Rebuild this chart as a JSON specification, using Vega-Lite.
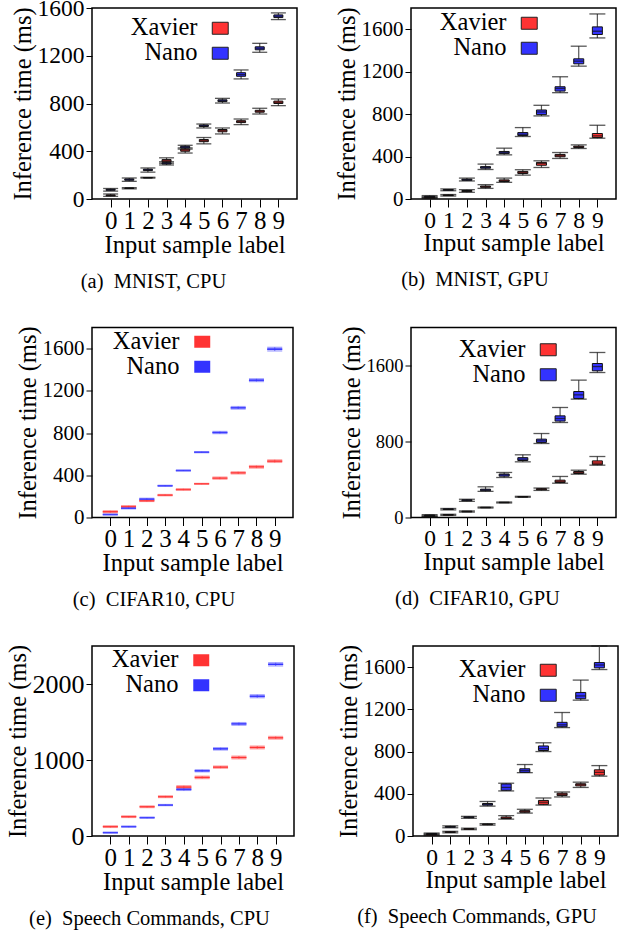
{
"$schema": "https://vega.github.io/schema/vega-lite/v6.json",
"padding": {"left": 4, "top": -5, "right": 0, "bottom": 0},
"spacing": 31.5,
"datasets": {
"a": [
{"label":"0","device":"Nano","min":66,"q1":73,"med":78,"q3":82,"max":88},
{"label":"1","device":"Nano","min":148,"q1":157,"med":163,"q3":168,"max":176},
{"label":"2","device":"Nano","min":225,"q1":238,"med":245,"q3":250,"max":260},
{"label":"3","device":"Nano","min":285,"q1":293,"med":298,"q3":304,"max":312},
{"label":"4","device":"Nano","min":418,"q1":428,"med":435,"q3":442,"max":450},
{"label":"5","device":"Nano","min":595,"q1":607,"med":614,"q3":620,"max":628},
{"label":"6","device":"Nano","min":804,"q1":816,"med":824,"q3":831,"max":843},
{"label":"7","device":"Nano","min":1006,"q1":1028,"med":1042,"q3":1058,"max":1081},
{"label":"8","device":"Nano","min":1229,"q1":1250,"med":1263,"q3":1275,"max":1304},
{"label":"9","device":"Nano","min":1503,"q1":1520,"med":1531,"q3":1542,"max":1559},
{"label":"0","device":"Xavier","min":22,"q1":27,"med":30,"q3":34,"max":42},
{"label":"1","device":"Xavier","min":85,"q1":88,"med":90,"q3":92,"max":95},
{"label":"2","device":"Xavier","min":175,"q1":177,"med":178,"q3":180,"max":182},
{"label":"3","device":"Xavier","min":300,"q1":312,"med":320,"q3":330,"max":345},
{"label":"4","device":"Xavier","min":385,"q1":400,"med":410,"q3":418,"max":428},
{"label":"5","device":"Xavier","min":462,"q1":480,"med":488,"q3":498,"max":515},
{"label":"6","device":"Xavier","min":545,"q1":563,"med":573,"q3":582,"max":595},
{"label":"7","device":"Xavier","min":623,"q1":640,"med":648,"q3":656,"max":670},
{"label":"8","device":"Xavier","min":712,"q1":727,"med":735,"q3":743,"max":760},
{"label":"9","device":"Xavier","min":782,"q1":800,"med":810,"q3":820,"max":838}
],
"b": [
{"label":"0","device":"Nano","min":15,"q1":19,"med":22,"q3":26,"max":32},
{"label":"1","device":"Nano","min":78,"q1":82,"med":85,"q3":89,"max":95},
{"label":"2","device":"Nano","min":170,"q1":176,"med":182,"q3":187,"max":197},
{"label":"3","device":"Nano","min":278,"q1":290,"med":298,"q3":305,"max":329},
{"label":"4","device":"Nano","min":416,"q1":428,"med":438,"q3":448,"max":479},
{"label":"5","device":"Nano","min":589,"q1":598,"med":610,"q3":626,"max":673},
{"label":"6","device":"Nano","min":783,"q1":795,"med":820,"q3":839,"max":883},
{"label":"7","device":"Nano","min":1002,"q1":1017,"med":1042,"q3":1058,"max":1152},
{"label":"8","device":"Nano","min":1252,"q1":1274,"med":1299,"q3":1321,"max":1440},
{"label":"9","device":"Nano","min":1518,"q1":1550,"med":1581,"q3":1622,"max":1744},
{"label":"0","device":"Xavier","min":5,"q1":9,"med":12,"q3":15,"max":20},
{"label":"1","device":"Xavier","min":28,"q1":32,"med":35,"q3":38,"max":42},
{"label":"2","device":"Xavier","min":63,"q1":70,"med":75,"q3":80,"max":88},
{"label":"3","device":"Xavier","min":100,"q1":110,"med":116,"q3":122,"max":135},
{"label":"4","device":"Xavier","min":157,"q1":165,"med":172,"q3":180,"max":197},
{"label":"5","device":"Xavier","min":225,"q1":240,"med":250,"q3":260,"max":276},
{"label":"6","device":"Xavier","min":297,"q1":318,"med":335,"q3":345,"max":360},
{"label":"7","device":"Xavier","min":382,"q1":398,"med":408,"q3":420,"max":438},
{"label":"8","device":"Xavier","min":476,"q1":485,"med":492,"q3":498,"max":510},
{"label":"9","device":"Xavier","min":573,"q1":579,"med":595,"q3":617,"max":695}
],
"c": [
{"label":"0","device":"Nano","min":24,"q1":26,"med":28,"q3":30,"max":32},
{"label":"1","device":"Nano","min":82,"q1":85,"med":88,"q3":91,"max":94},
{"label":"2","device":"Nano","min":166,"q1":170,"med":174,"q3":178,"max":182},
{"label":"3","device":"Nano","min":295,"q1":298,"med":300,"q3":302,"max":305},
{"label":"4","device":"Nano","min":440,"q1":443,"med":445,"q3":447,"max":450},
{"label":"5","device":"Nano","min":614,"q1":617,"med":619,"q3":621,"max":624},
{"label":"6","device":"Nano","min":795,"q1":801,"med":805,"q3":809,"max":815},
{"label":"7","device":"Nano","min":1027,"q1":1034,"med":1039,"q3":1044,"max":1051},
{"label":"8","device":"Nano","min":1288,"q1":1295,"med":1301,"q3":1307,"max":1314},
{"label":"9","device":"Nano","min":1578,"q1":1588,"med":1595,"q3":1602,"max":1612},
{"label":"0","device":"Xavier","min":45,"q1":50,"med":55,"q3":60,"max":64},
{"label":"1","device":"Xavier","min":97,"q1":101,"med":104,"q3":107,"max":111},
{"label":"2","device":"Xavier","min":152,"q1":155,"med":158,"q3":161,"max":164},
{"label":"3","device":"Xavier","min":206,"q1":209,"med":212,"q3":215,"max":218},
{"label":"4","device":"Xavier","min":258,"q1":262,"med":265,"q3":268,"max":272},
{"label":"5","device":"Xavier","min":315,"q1":317,"med":319,"q3":321,"max":323},
{"label":"6","device":"Xavier","min":363,"q1":369,"med":373,"q3":377,"max":383},
{"label":"7","device":"Xavier","min":413,"q1":419,"med":423,"q3":427,"max":433},
{"label":"8","device":"Xavier","min":468,"q1":475,"med":480,"q3":485,"max":492},
{"label":"9","device":"Xavier","min":522,"q1":529,"med":534,"q3":539,"max":546}
],
"d": [
{"label":"0","device":"Nano","min":15,"q1":18,"med":22,"q3":25,"max":30},
{"label":"1","device":"Nano","min":80,"q1":84,"med":88,"q3":91,"max":95},
{"label":"2","device":"Nano","min":170,"q1":176,"med":182,"q3":186,"max":192},
{"label":"3","device":"Nano","min":275,"q1":282,"med":290,"q3":298,"max":323},
{"label":"4","device":"Nano","min":421,"q1":435,"med":449,"q3":458,"max":474},
{"label":"5","device":"Nano","min":586,"q1":600,"med":614,"q3":630,"max":660},
{"label":"6","device":"Nano","min":779,"q1":790,"med":807,"q3":825,"max":884},
{"label":"7","device":"Nano","min":1000,"q1":1015,"med":1042,"q3":1070,"max":1158},
{"label":"8","device":"Nano","min":1246,"q1":1253,"med":1291,"q3":1326,"max":1446},
{"label":"9","device":"Nano","min":1526,"q1":1544,"med":1589,"q3":1621,"max":1737},
{"label":"0","device":"Xavier","min":5,"q1":8,"med":10,"q3":12,"max":15},
{"label":"1","device":"Xavier","min":22,"q1":25,"med":28,"q3":31,"max":34},
{"label":"2","device":"Xavier","min":57,"q1":60,"med":63,"q3":66,"max":69},
{"label":"3","device":"Xavier","min":100,"q1":103,"med":105,"q3":107,"max":110},
{"label":"4","device":"Xavier","min":153,"q1":156,"med":158,"q3":160,"max":163},
{"label":"5","device":"Xavier","min":213,"q1":216,"med":218,"q3":220,"max":223},
{"label":"6","device":"Xavier","min":285,"q1":292,"med":298,"q3":303,"max":310},
{"label":"7","device":"Xavier","min":361,"q1":368,"med":379,"q3":393,"max":432},
{"label":"8","device":"Xavier","min":456,"q1":463,"med":474,"q3":484,"max":498},
{"label":"9","device":"Xavier","min":551,"q1":556,"med":572,"q3":596,"max":642}
],
"e": [
{"label":"0","device":"Nano","min":38,"q1":41,"med":44,"q3":47,"max":50},
{"label":"1","device":"Nano","min":116,"q1":120,"med":123,"q3":126,"max":130},
{"label":"2","device":"Nano","min":234,"q1":238,"med":241,"q3":244,"max":248},
{"label":"3","device":"Nano","min":400,"q1":404,"med":407,"q3":410,"max":414},
{"label":"4","device":"Nano","min":600,"q1":607,"med":613,"q3":619,"max":626},
{"label":"5","device":"Nano","min":845,"q1":852,"med":858,"q3":864,"max":871},
{"label":"6","device":"Nano","min":1132,"q1":1140,"med":1147,"q3":1154,"max":1162},
{"label":"7","device":"Nano","min":1458,"q1":1468,"med":1475,"q3":1482,"max":1492},
{"label":"8","device":"Nano","min":1820,"q1":1831,"med":1839,"q3":1847,"max":1858},
{"label":"9","device":"Nano","min":2238,"q1":2250,"med":2259,"q3":2268,"max":2280},
{"label":"0","device":"Xavier","min":113,"q1":118,"med":123,"q3":128,"max":133},
{"label":"1","device":"Xavier","min":244,"q1":249,"med":254,"q3":259,"max":264},
{"label":"2","device":"Xavier","min":374,"q1":380,"med":385,"q3":390,"max":396},
{"label":"3","device":"Xavier","min":506,"q1":512,"med":517,"q3":522,"max":528},
{"label":"4","device":"Xavier","min":626,"q1":636,"med":644,"q3":652,"max":662},
{"label":"5","device":"Xavier","min":755,"q1":764,"med":771,"q3":778,"max":787},
{"label":"6","device":"Xavier","min":892,"q1":900,"med":906,"q3":912,"max":920},
{"label":"7","device":"Xavier","min":1015,"q1":1025,"med":1033,"q3":1041,"max":1051},
{"label":"8","device":"Xavier","min":1147,"q1":1157,"med":1165,"q3":1173,"max":1183},
{"label":"9","device":"Xavier","min":1275,"q1":1285,"med":1292,"q3":1299,"max":1310}
],
"f": [
{"label":"0","device":"Nano","min":12,"q1":16,"med":20,"q3":24,"max":28},
{"label":"1","device":"Nano","min":78,"q1":83,"med":87,"q3":91,"max":96},
{"label":"2","device":"Nano","min":168,"q1":173,"med":177,"q3":181,"max":186},
{"label":"3","device":"Nano","min":283,"q1":292,"med":300,"q3":308,"max":327},
{"label":"4","device":"Nano","min":427,"q1":433,"med":460,"q3":493,"max":500},
{"label":"5","device":"Nano","min":600,"q1":603,"med":620,"q3":637,"max":677},
{"label":"6","device":"Nano","min":800,"q1":810,"med":827,"q3":853,"max":883},
{"label":"7","device":"Nano","min":1027,"q1":1035,"med":1053,"q3":1077,"max":1170},
{"label":"8","device":"Nano","min":1287,"q1":1300,"med":1327,"q3":1360,"max":1477},
{"label":"9","device":"Nano","min":1577,"q1":1593,"med":1620,"q3":1643,"max":1800},
{"label":"0","device":"Xavier","min":5,"q1":8,"med":12,"q3":15,"max":20},
{"label":"1","device":"Xavier","min":30,"q1":34,"med":37,"q3":40,"max":44},
{"label":"2","device":"Xavier","min":60,"q1":64,"med":67,"q3":70,"max":74},
{"label":"3","device":"Xavier","min":103,"q1":107,"med":110,"q3":113,"max":117},
{"label":"4","device":"Xavier","min":160,"q1":165,"med":170,"q3":180,"max":193},
{"label":"5","device":"Xavier","min":217,"q1":225,"med":233,"q3":240,"max":253},
{"label":"6","device":"Xavier","min":293,"q1":300,"med":320,"q3":337,"max":360},
{"label":"7","device":"Xavier","min":370,"q1":383,"med":393,"q3":405,"max":417},
{"label":"8","device":"Xavier","min":460,"q1":475,"med":487,"q3":495,"max":510},
{"label":"9","device":"Xavier","min":567,"q1":577,"med":603,"q3":627,"max":667}
]
},
"resolve": {"scale": {"x": "independent", "y": "independent", "color": "independent"}, "legend": {"color": "independent"}},
"vconcat": [
{
"spacing": 35,
"resolve": {"scale": {"x": "independent", "y": "independent", "color": "independent"}, "legend": {"color": "independent"}},
"hconcat": [
{
"width": 205, "height": 191,
"data": {"name": "a"},
"title": {"text": "(a)\u2002MNIST, CPU"},
"encoding": {"x": {"field": "label", "type": "ordinal", "scale": {"type": "point", "padding": 1.1}, "axis": {"title": "Input sample label", "labelFontSize": 25}}},
"layer": [
{"mark": {"type": "rule", "color": "#555", "strokeWidth": 1.2}, "encoding": {"y": {"field": "min", "type": "quantitative", "scale": {"domain": [0, 1600], "nice": false}, "axis": {"title": "Inference time (ms)", "values": [0,200,400,600,800,1000,1200,1400,1600], "labelFontSize": 23.5}}, "y2": {"field": "max"}}},
{"mark": {"type": "tick", "color": "#111", "size": 15, "thickness": 1.3}, "encoding": {"y": {"field": "min", "type": "quantitative"}}},
{"mark": {"type": "tick", "color": "#111", "size": 15, "thickness": 1.3}, "encoding": {"y": {"field": "max", "type": "quantitative"}}},
{"mark": {"type": "bar", "size": 9, "stroke": "#111", "strokeWidth": 1}, "encoding": {"y": {"field": "q1", "type": "quantitative"}, "y2": {"field": "q3"}, "color": {"field": "device", "type": "nominal", "scale": {"domain": ["Xavier", "Nano"], "range": ["#ff3333", "#3333ff"]}, "legend": {"legendX": 116, "legendY": 8}}}},
{"mark": {"type": "tick", "color": "#111", "size": 9, "thickness": 1.3}, "encoding": {"y": {"field": "med", "type": "quantitative"}}}
]
},
{
"width": 205, "height": 191,
"data": {"name": "b"},
"title": {"text": "(b)\u2002MNIST, GPU"},
"encoding": {"x": {"field": "label", "type": "ordinal", "scale": {"type": "point", "padding": 1.1}, "axis": {"title": "Input sample label", "labelFontSize": 23.5}}},
"layer": [
{"mark": {"type": "rule", "color": "#555", "strokeWidth": 1.2}, "encoding": {"y": {"field": "min", "type": "quantitative", "scale": {"domain": [0, 1800], "nice": false}, "axis": {"title": "Inference time (ms)", "values": [0,200,400,600,800,1000,1200,1400,1600,1800], "labelFontSize": 21}}, "y2": {"field": "max"}}},
{"mark": {"type": "tick", "color": "#111", "size": 16, "thickness": 1.3}, "encoding": {"y": {"field": "min", "type": "quantitative"}}},
{"mark": {"type": "tick", "color": "#111", "size": 16, "thickness": 1.3}, "encoding": {"y": {"field": "max", "type": "quantitative"}}},
{"mark": {"type": "bar", "size": 10, "stroke": "#111", "strokeWidth": 1}, "encoding": {"y": {"field": "q1", "type": "quantitative"}, "y2": {"field": "q3"}, "color": {"field": "device", "type": "nominal", "scale": {"domain": ["Xavier", "Nano"], "range": ["#ff3333", "#3333ff"]}, "legend": {"legendX": 106, "legendY": 3}}}},
{"mark": {"type": "tick", "color": "#111", "size": 10, "thickness": 1.3}, "encoding": {"y": {"field": "med", "type": "quantitative"}}}
]
}
]
},
{
"spacing": 44,
"resolve": {"scale": {"x": "independent", "y": "independent", "color": "independent"}, "legend": {"color": "independent"}},
"hconcat": [
{
"width": 201, "height": 190,
"data": {"name": "c"},
"title": {"text": "(c)\u2002CIFAR10, CPU"},
"encoding": {"x": {"field": "label", "type": "ordinal", "scale": {"type": "point", "padding": 1.1}, "axis": {"title": "Input sample label", "labelFontSize": 25}}},
"layer": [
{"mark": {"type": "rule", "strokeWidth": 1.2, "opacity": 0.5}, "encoding": {"y": {"field": "min", "type": "quantitative", "scale": {"domain": [0, 1800], "nice": false}, "axis": {"title": "Inference time (ms)", "values": [0,200,400,600,800,1000,1200,1400,1600,1800], "labelFontSize": 21}}, "y2": {"field": "max"}, "color": {"field": "device", "type": "nominal", "scale": {"domain": ["Xavier", "Nano"], "range": ["#ff3333", "#3333ff"]}, "legend": {"legendX": 98, "legendY": 2, "symbolStrokeWidth": 0}}}},
{"mark": {"type": "tick", "size": 15, "thickness": 1.3, "opacity": 0.45}, "encoding": {"y": {"field": "min", "type": "quantitative"}, "color": {"field": "device", "type": "nominal"}}},
{"mark": {"type": "tick", "size": 15, "thickness": 1.3, "opacity": 0.45}, "encoding": {"y": {"field": "max", "type": "quantitative"}, "color": {"field": "device", "type": "nominal"}}},
{"mark": {"type": "bar", "size": 15}, "encoding": {"y": {"field": "q1", "type": "quantitative"}, "y2": {"field": "q3"}, "color": {"field": "device", "type": "nominal"}}},
{"mark": {"type": "tick", "size": 15, "thickness": 1.5}, "encoding": {"y": {"field": "med", "type": "quantitative"}, "color": {"field": "device", "type": "nominal"}}}
]
},
{
"width": 205, "height": 190,
"data": {"name": "d"},
"title": {"text": "(d)\u2002CIFAR10, GPU"},
"encoding": {"x": {"field": "label", "type": "ordinal", "scale": {"type": "point", "padding": 1.1}, "axis": {"title": "Input sample label", "labelFontSize": 23.5}}},
"layer": [
{"mark": {"type": "rule", "color": "#555", "strokeWidth": 1.2}, "encoding": {"y": {"field": "min", "type": "quantitative", "scale": {"domain": [0, 2000], "nice": false}, "axis": {"title": "Inference time (ms)", "values": [0,200,400,600,800,1000,1200,1400,1600,1800,2000], "labelFontSize": 18.5}}, "y2": {"field": "max"}}},
{"mark": {"type": "tick", "color": "#111", "size": 16, "thickness": 1.3}, "encoding": {"y": {"field": "min", "type": "quantitative"}}},
{"mark": {"type": "tick", "color": "#111", "size": 16, "thickness": 1.3}, "encoding": {"y": {"field": "max", "type": "quantitative"}}},
{"mark": {"type": "bar", "size": 10, "stroke": "#111", "strokeWidth": 1}, "encoding": {"y": {"field": "q1", "type": "quantitative"}, "y2": {"field": "q3"}, "color": {"field": "device", "type": "nominal", "scale": {"domain": ["Xavier", "Nano"], "range": ["#ff3333", "#3333ff"]}, "legend": {"legendX": 125, "legendY": 10}}}},
{"mark": {"type": "tick", "color": "#111", "size": 10, "thickness": 1.3}, "encoding": {"y": {"field": "med", "type": "quantitative"}}}
]
}
]
},
{
"spacing": 40,
"resolve": {"scale": {"x": "independent", "y": "independent", "color": "independent"}, "legend": {"color": "independent"}},
"hconcat": [
{
"width": 202, "height": 190,
"data": {"name": "e"},
"title": {"text": "(e)\u2002Speech Commands, CPU"},
"encoding": {"x": {"field": "label", "type": "ordinal", "scale": {"type": "point", "padding": 1.1}, "axis": {"title": "Input sample label", "labelFontSize": 25}}},
"layer": [
{"mark": {"type": "rule", "strokeWidth": 1.2, "opacity": 0.5}, "encoding": {"y": {"field": "min", "type": "quantitative", "scale": {"domain": [0, 2500], "nice": false}, "axis": {"title": "Inference time (ms)", "values": [0,500,1000,1500,2000,2500], "labelFontSize": 26}}, "y2": {"field": "max"}, "color": {"field": "device", "type": "nominal", "scale": {"domain": ["Xavier", "Nano"], "range": ["#ff3333", "#3333ff"]}, "legend": {"legendX": 97, "legendY": 2, "symbolStrokeWidth": 0}}}},
{"mark": {"type": "tick", "size": 15, "thickness": 1.3, "opacity": 0.45}, "encoding": {"y": {"field": "min", "type": "quantitative"}, "color": {"field": "device", "type": "nominal"}}},
{"mark": {"type": "tick", "size": 15, "thickness": 1.3, "opacity": 0.45}, "encoding": {"y": {"field": "max", "type": "quantitative"}, "color": {"field": "device", "type": "nominal"}}},
{"mark": {"type": "bar", "size": 15}, "encoding": {"y": {"field": "q1", "type": "quantitative"}, "y2": {"field": "q3"}, "color": {"field": "device", "type": "nominal"}}},
{"mark": {"type": "tick", "size": 15, "thickness": 1.5}, "encoding": {"y": {"field": "med", "type": "quantitative"}, "color": {"field": "device", "type": "nominal"}}}
]
},
{
"width": 205, "height": 190,
"data": {"name": "f"},
"title": {"text": "(f)\u2002Speech Commands, GPU"},
"encoding": {"x": {"field": "label", "type": "ordinal", "scale": {"type": "point", "padding": 1.1}, "axis": {"title": "Input sample label", "labelFontSize": 23.5}}},
"layer": [
{"mark": {"type": "rule", "color": "#555", "strokeWidth": 1.2}, "encoding": {"y": {"field": "min", "type": "quantitative", "scale": {"domain": [0, 1800], "nice": false}, "axis": {"title": "Inference time (ms)", "values": [0,200,400,600,800,1000,1200,1400,1600,1800], "labelFontSize": 21}}, "y2": {"field": "max"}}},
{"mark": {"type": "tick", "color": "#111", "size": 16, "thickness": 1.3}, "encoding": {"y": {"field": "min", "type": "quantitative"}}},
{"mark": {"type": "tick", "color": "#111", "size": 16, "thickness": 1.3}, "encoding": {"y": {"field": "max", "type": "quantitative"}}},
{"mark": {"type": "bar", "size": 10, "stroke": "#111", "strokeWidth": 1}, "encoding": {"y": {"field": "q1", "type": "quantitative"}, "y2": {"field": "q3"}, "color": {"field": "device", "type": "nominal", "scale": {"domain": ["Xavier", "Nano"], "range": ["#ff3333", "#3333ff"]}, "legend": {"legendX": 123, "legendY": 12}}}},
{"mark": {"type": "tick", "color": "#111", "size": 10, "thickness": 1.3}, "encoding": {"y": {"field": "med", "type": "quantitative"}}}
]
}
]
}
],
"config": {
"font": "Liberation Serif",
"view": {"stroke": "#000", "strokeWidth": 1.5},
"axis": {"labelFont": "Liberation Serif, serif", "titleFont": "Liberation Serif, serif", "labelColor": "#000", "titleColor": "#000", "tickColor": "#000", "tickWidth": 1, "domain": false, "grid": false, "titleFontWeight": "normal", "titleFontSize": 24.5, "format": "d", "labelFlush": false, "labelOverlap": false},
"axisX": {"labelAngle": 0, "tickSize": 8, "labelPadding": 1, "titlePadding": 0},
"axisY": {"tickSize": 6, "labelPadding": 2, "titlePadding": 2, "labelOverlap": false},
"axisQuantitative": {"labelOverlap": false},
"title": {"font": "Liberation Serif", "fontSize": 20.5, "fontWeight": "normal", "color": "#000", "anchor": "middle", "frame": "bounds", "orient": "bottom", "offset": 15},
"legend": {"orient": "none", "title": null, "labelFont": "Liberation Serif", "labelFontSize": 24.5, "labelColor": "#000", "labelAlign": "right", "labelOffset": -35, "labelLimit": 300, "symbolType": "M-1.33,-1H1.33V1H-1.33Z", "symbolSize": 144, "symbolStrokeColor": "#222", "symbolStrokeWidth": 1, "symbolOpacity": 1, "rowPadding": 0, "padding": 0, "offset": 0}
}
}
